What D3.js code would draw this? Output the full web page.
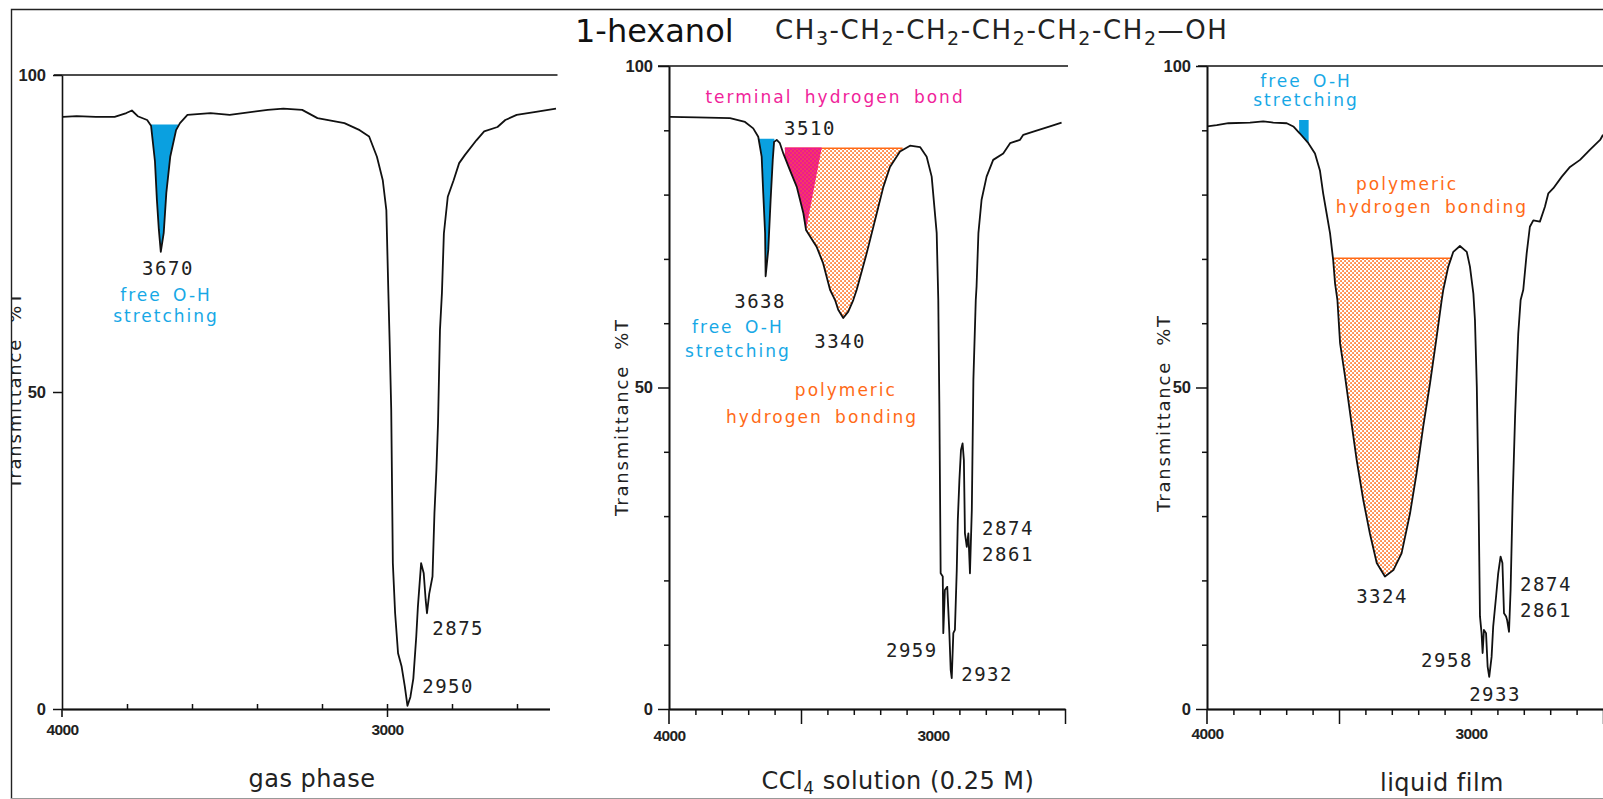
<!DOCTYPE html>
<html><head><meta charset="utf-8">
<script src="https://cdn.jsdelivr.net/npm/d3@7/dist/d3.min.js"></script>
<style>html,body{margin:0;padding:0;background:#fff;}svg{display:block;}</style>
</head><body>
<svg id="chart" width="1603" height="799"></svg>
<script>
// ---------------- DATA (wavenumber cm-1, transmittance %T) ----------------
const gasWave = [3997,3955,3896,3838,3802,3785,3767,3738,3726,3714,3708,3702,3696,3687,3679,3667,3649,3637,3614,3543,3484,3367,3319,3261,3214,3131,3084,3055,3031,3013,3002,2996,2992,2987,2982,2975,2966,2955,2945,2937,2928,2919,2910,2905,2895,2887,2881,2877,2870,2860,2854,2848,2843,2837,2831,2825,2813,2795,2778,2760,2725,2701,2660,2636,2601,2542,2480];
const gasT = [93.4,93.5,93.4,93.4,94.0,94.4,93.5,92.9,92.0,86.4,80.3,75.6,72.1,75.1,81.4,87.1,91.3,92.4,93.7,94.0,93.7,94.5,94.7,94.5,93.2,92.4,91.3,90.3,87.1,83.4,78.7,66.1,58.2,47.2,23.0,15.1,8.8,6.7,3.5,0.5,1.9,4.8,11.4,16.1,23.0,21.4,17.2,15.1,18.2,20.9,30.9,37.7,45.1,59.8,65.6,75.0,80.8,83.4,86.1,87.4,89.7,91.1,91.8,92.9,93.7,94.2,94.7];

const ccl4Wave = [3996,3895,3769,3712,3681,3662,3649,3643,3636,3634,3624,3615,3607,3602,3592,3580,3567,3542,3516,3491,3481,3441,3416,3390,3371,3359,3340,3321,3302,3289,3251,3213,3188,3163,3125,3087,3049,3024,3005,2986,2980,2976,2971,2963,2961,2955,2946,2938,2933,2929,2923,2917,2910,2906,2900,2894,2888,2883,2879,2872,2866,2860,2853,2847,2838,2835,2828,2816,2797,2772,2734,2708,2671,2658,2620,2557,2513];
const ccl4T = [92.1,92.0,91.9,91.3,90.3,89.0,85.9,80.2,74.0,67.3,71.4,79.2,85.4,88.2,88.5,88.0,86.4,83.8,81.2,77.1,74.5,71.9,69.3,65.2,63.6,62.1,60.8,61.8,63.6,65.2,70.9,77.1,81.2,84.3,86.7,87.6,87.4,85.9,82.8,74.0,63.6,47.5,21.1,20.6,11.8,18.5,19.0,11.8,6.1,4.8,11.8,12.3,21.6,29.4,35.6,40.3,41.3,38.7,27.3,25.2,27.3,21.1,30.9,51.2,63.6,65.7,74.0,79.2,82.8,85.4,86.4,88.0,88.5,89.3,89.8,90.6,91.2];

const liqWave = [3999,3963,3919,3837,3787,3749,3698,3673,3648,3616,3591,3572,3560,3547,3534,3522,3515,3506,3496,3477,3458,3433,3408,3383,3357,3326,3294,3263,3231,3206,3181,3155,3130,3111,3105,3086,3067,3042,3016,3004,2991,2985,2978,2972,2966,2960,2956,2951,2943,2937,2931,2922,2916,2905,2897,2888,2881,2875,2867,2863,2856,2850,2842,2833,2827,2821,2812,2802,2789,2777,2764,2739,2720,2707,2688,2656,2625,2587,2549,2511,2500];
const liqT = [90.6,90.8,91.1,91.2,91.4,91.2,91.1,90.6,89.5,88.0,86.4,83.7,80.2,77.1,74.0,69.8,66.2,63.6,56.9,51.7,46.0,38.7,32.5,27.3,22.7,20.6,21.6,24.2,30.4,36.7,43.9,50.7,57.9,63.6,65.2,68.8,71.1,72.0,71.1,68.8,64.6,60.5,50.1,34.6,14.4,11.8,8.7,12.3,11.8,6.6,5.0,8.1,12.8,17.5,21.1,23.7,22.7,14.9,14.4,13.8,12.0,18.5,33.0,45.5,52.2,58.4,63.6,65.2,70.9,75.0,76.0,75.8,78.1,80.2,81.0,82.8,84.3,85.4,87.0,88.5,89.3];

// tick values / labels
const xLabelTicks = [4000, 3000];
const yLabelTicks = [0, 50, 100];
const gasMinorX = [3800,3600,3400,3200,3000,2800,2600];
const solMinorX = [3900,3800,3700,3600,3400,3300,3200,3100,3000,2900,2800,2700,2600];
const solMajorX = [3500,2500];
const solMinorY = [10,20,30,40,60,70,80,90];

// shaded band regions: [from wavenumber, to wavenumber, top level %T]
const gasFree = [3729, 3643, 92.2];
const ccl4Free = [3659, 3601, 88.7];
const ccl4Poly = [3561, 3115, 87.2];
const ccl4Term = [3561, 3481, 3422, 87.2]; // curve from..to, apex at level
const liqFree = [3651, 3615, 91.6];
const liqPoly = [3523, 3072, 70.1];

// annotations: text, wavenumber, %T (baseline anchor), kind
const gasLabels = [
  ['3670', 3674, 68.5, 'num'],
  ['free O-H', 3680, 64.3, 'free'],
  ['stretching', 3680, 61.0, 'free'],
  ['2875', 2781, 11.7, 'num'],
  ['2950', 2812, 2.5, 'num']
];
const ccl4Labels = [
  ['terminal hydrogen bond', 3371, 94.2, 'term'],
  ['3510', 3466, 89.3, 'num'],
  ['3638', 3655, 62.4, 'num'],
  ['free O-H', 3739, 58.4, 'free'],
  ['stretching', 3739, 54.7, 'free'],
  ['3340', 3352, 56.1, 'num'],
  ['polymeric', 3330, 48.7, 'poly'],
  ['hydrogen bonding', 3420, 44.5, 'poly'],
  ['2874', 2716, 27.1, 'num'],
  ['2861', 2716, 23.0, 'num'],
  ['2959', 3080, 8.1, 'num'],
  ['2932', 2795, 4.4, 'num']
];
const liqLabels = [
  ['free O-H', 3625, 96.7, 'free'],
  ['stretching', 3625, 93.8, 'free'],
  ['polymeric', 3242, 80.7, 'poly'],
  ['hydrogen bonding', 3148, 77.1, 'poly'],
  ['3324', 3337, 16.5, 'num'],
  ['2874', 2716, 18.4, 'num'],
  ['2861', 2716, 14.3, 'num'],
  ['2958', 3091, 6.5, 'num'],
  ['2933', 2909, 1.2, 'num']
];

const titleText = '1-hexanol';
const formulaParts = ['CH','3','-CH','2','-CH','2','-CH','2','-CH','2','-CH','2','\u2014OH'];
const subtitles = ['gas phase', 'CCl|4| solution (0.25 M)', 'liquid film'];
const yTitle = 'Transmittance  %T';

// ---------------- STYLE ----------------
const BLUE = '#0aa0e0', BLUE_TXT = '#17a8e6', PINK = '#ee1a8e', PINK_TXT = '#f0239a',
      ORANGE = '#ff6a16', DOT = '#ff6f1e', INK = '#111';
const labelStyle = {
  num:  {font:'DejaVu Sans Mono', size:19, fill:'#222', ls:1.5, ws:0},
  free: {font:'DejaVu Sans', size:17, fill:BLUE_TXT, ls:2, ws:4},
  term: {font:'DejaVu Sans', size:17, fill:PINK_TXT, ls:2, ws:5},
  poly: {font:'DejaVu Sans', size:17, fill:ORANGE, ls:2, ws:5}
};

const svg = d3.select('#chart');
svg.append('rect').attr('width',1603).attr('height',799).attr('fill','#fff');
const defs = svg.append('defs');
function dotPattern(id, bg){
  const p = defs.append('pattern').attr('id',id).attr('width',4).attr('height',4)
    .attr('patternUnits','userSpaceOnUse');
  if (bg) p.append('rect').attr('width',4).attr('height',4).attr('fill',bg);
  p.append('rect').attr('x',0.2).attr('y',0.2).attr('width',1.7).attr('height',1.7).attr('fill',DOT);
  p.append('rect').attr('x',2.2).attr('y',2.2).attr('width',1.7).attr('height',1.7).attr('fill',DOT);
}
dotPattern('dotsW','#fff');
dotPattern('dotsT',null);
defs.append('clipPath').attr('id','clipL').append('rect').attr('x',12).attr('y',0).attr('width',1600).attr('height',799);

// frame
svg.append('path').attr('d','M11.5,799 V9.5 H1603').attr('fill','none').attr('stroke','#222').attr('stroke-width',1.4);
svg.append('line').attr('x1',11).attr('x2',1603).attr('y1',798.5).attr('y2',798.5).attr('stroke','#999').attr('stroke-width',1);

function interp(wv, tv, w){
  for (let i=0;i<wv.length-1;i++){
    if (wv[i] >= w && wv[i+1] <= w){
      const f = (w - wv[i])/(wv[i+1]-wv[i]);
      return tv[i] + f*(tv[i+1]-tv[i]);
    }
  }
  return tv[tv.length-1];
}
function segment(wv, tv, from, to){
  const pts = [{w:from, t:interp(wv,tv,from)}];
  wv.forEach((w,i)=>{ if (w < from && w > to) pts.push({w, t:tv[i]}); });
  pts.push({w:to, t:interp(wv,tv,to)});
  return pts;
}

function drawPanel(o){
  const x = d3.scaleLinear().domain([4000,2500]).range(o.xRange);
  const y = d3.scaleLinear().domain([0,100]).range(o.yRange);
  const g = svg.append('g');
  if (o.clip) g.attr('clip-path','url(#clipL)');

  const band = (reg, fill) => {
    const [from,to,level] = reg;
    const pts = segment(o.wave, o.T, from, to);
    g.append('path').datum(pts)
      .attr('d', d3.area().x(d=>x(d.w)).y0(y(level)).y1(d=>y(Math.min(d.t, level))))
      .attr('fill', fill);
    return level;
  };

  if (o.poly){
    const lvl = band(o.poly, 'url(#dotsW)');
    g.append('line').attr('x1',x(o.poly[0])).attr('x2',x(o.poly[1]))
      .attr('y1',y(lvl)).attr('y2',y(lvl)).attr('stroke',ORANGE).attr('stroke-width',1.6);
  }
  if (o.term){
    const [from,to,apex,level] = o.term;
    const pts = segment(o.wave, o.T, from, to).concat([{w:apex,t:level},{w:from,t:level}]);
    const ln = d3.line().x(d=>x(d.w)).y(d=>y(d.t));
    g.append('path').attr('d', ln(pts)+'Z').attr('fill',PINK);
    g.append('path').attr('d', ln(pts)+'Z').attr('fill','url(#dotsT)').attr('opacity',0.5);
    g.append('line').attr('x1',x(from)).attr('x2',x(apex)).attr('y1',y(level)).attr('y2',y(level))
      .attr('stroke',PINK).attr('stroke-width',1.6);
  }
  if (o.free) band(o.free, BLUE);

  g.append('line').attr('x1', x(4000)-o.topExt[0]).attr('x2', x(2500)+o.topExt[1])
    .attr('y1', y(100)).attr('y2', y(100)).attr('stroke',INK).attr('stroke-width',1.6);

  const styleAxis = sel => {
    sel.selectAll('path.domain').attr('stroke',INK).attr('stroke-width',1.6);
    sel.selectAll('.tick line').attr('stroke',INK).attr('stroke-width',1.5);
    sel.selectAll('text').attr('font-family','Liberation Sans').attr('font-weight','bold')
      .attr('font-size',16.5).attr('fill','#222');
  };

  if (o.minorY){
    g.append('g').attr('transform',`translate(${x(4000)},0)`)
      .call(d3.axisLeft(y).tickValues(o.minorY).tickSize(5).tickSizeOuter(0).tickFormat(''))
      .call(styleAxis);
  }
  g.append('g').attr('transform',`translate(${x(4000)},0)`)
    .call(d3.axisLeft(y).tickValues(yLabelTicks).tickSize(o.yMajor).tickSizeOuter(0)
      .tickPadding(16 - o.yMajor).tickFormat(d3.format('d')))
    .call(styleAxis);
  g.append('line').attr('x1',x(4000)).attr('x2',x(4000)).attr('y1',y(0)).attr('y2',y(0)+o.xMajor)
    .attr('stroke',INK).attr('stroke-width',1.6);

  g.append('g').attr('transform',`translate(0,${y(0)})`)
    .call(d3.axisBottom(x).tickValues(o.minorX).tickSize(o.minorLen).tickSizeOuter(0).tickFormat(''))
    .call(styleAxis);
  if (o.majorX){
    g.append('g').attr('transform',`translate(0,${y(0)})`)
      .call(d3.axisBottom(x).tickValues(o.majorX).tickSize(o.xMajor).tickSizeOuter(0).tickFormat(''))
      .call(styleAxis);
  }
  const lab = g.append('g').attr('transform',`translate(0,${y(0)})`)
    .call(d3.axisBottom(x).tickValues(xLabelTicks).tickSize(o.labTick).tickSizeOuter(0)
      .tickPadding(o.xPad).tickFormat(d3.format('d')))
    .call(styleAxis);
  lab.selectAll('text').attr('font-size',15.5).attr('letter-spacing',-0.6);

  g.append('path').datum(o.wave.map((w,i)=>({w, t:o.T[i]})))
    .attr('d', d3.line().x(d=>x(d.w)).y(d=>y(d.t)))
    .attr('fill','none').attr('stroke',INK).attr('stroke-width',1.8).attr('stroke-linejoin','round');

  g.append('text').attr('transform',`translate(${o.yTitle[0]},${o.yTitle[1]}) rotate(-90)`)
    .attr('text-anchor','middle').attr('font-family','DejaVu Sans').attr('font-size',18)
    .attr('letter-spacing',1.8).attr('fill','#222').style('white-space','pre').text(yTitle);

  o.labels.forEach(([txt,w,t,kind])=>{
    const s = labelStyle[kind];
    g.append('text').attr('x',x(w)).attr('y',y(t)).attr('text-anchor','middle')
      .attr('font-family',s.font).attr('font-size',s.size).attr('fill',s.fill)
      .attr('letter-spacing',s.ls).attr('word-spacing',s.ws).text(txt);
  });

  const st = g.append('text').attr('x',o.sub[0]).attr('y',o.sub[1]).attr('text-anchor','middle')
    .attr('font-family','DejaVu Sans').attr('font-size',24).attr('letter-spacing',0.5).attr('fill','#222');
  o.subText.split('|').forEach((part,i)=>{
    if (i%2===1) st.append('tspan').attr('font-size',17).attr('dy',5).text(part);
    else st.append('tspan').attr('dy', i>0 ? -5 : 0).text(part);
  });
}

drawPanel({wave:gasWave, T:gasT, xRange:[62,549.5], yRange:[709,75], topExt:[8,8],
  minorX:gasMinorX, minorLen:-5, majorX:[3000], xMajor:8, labTick:0, xPad:15, yMajor:9,
  free:gasFree, labels:gasLabels, yTitle:[21,390], clip:true, sub:[312,787], subText:subtitles[0]});
drawPanel({wave:ccl4Wave, T:ccl4T, xRange:[669,1065], yRange:[709,66], topExt:[11,3],
  minorX:solMinorX, minorLen:6, majorX:solMajorX, xMajor:15, labTick:0, xPad:21, yMajor:11, minorY:solMinorY,
  free:ccl4Free, poly:ccl4Poly, term:ccl4Term, labels:ccl4Labels, yTitle:[628,417], sub:[898,789], subText:subtitles[1]});
drawPanel({wave:liqWave, T:liqT, xRange:[1207,1603], yRange:[709,66], topExt:[9,3],
  minorX:solMinorX, minorLen:6, majorX:solMajorX, xMajor:15, labTick:0, xPad:19, yMajor:11, minorY:solMinorY,
  free:liqFree, poly:liqPoly, labels:liqLabels, yTitle:[1170,413], sub:[1442,791], subText:subtitles[2]});

svg.append('text').attr('x',575).attr('y',42).attr('font-family','DejaVu Sans').attr('font-size',32)
  .attr('fill','#111').text(titleText);
const ft = svg.append('text').attr('x',775).attr('y',39).attr('font-family','DejaVu Sans')
  .attr('font-size',26).attr('letter-spacing',1.6).attr('fill','#222');
formulaParts.forEach((p,i)=>{
  if (i%2===1) ft.append('tspan').attr('font-size',19).attr('dy',6).text(p);
  else ft.append('tspan').attr('dy', i>0 ? -6 : 0).text(p);
});
</script>
</body></html>
